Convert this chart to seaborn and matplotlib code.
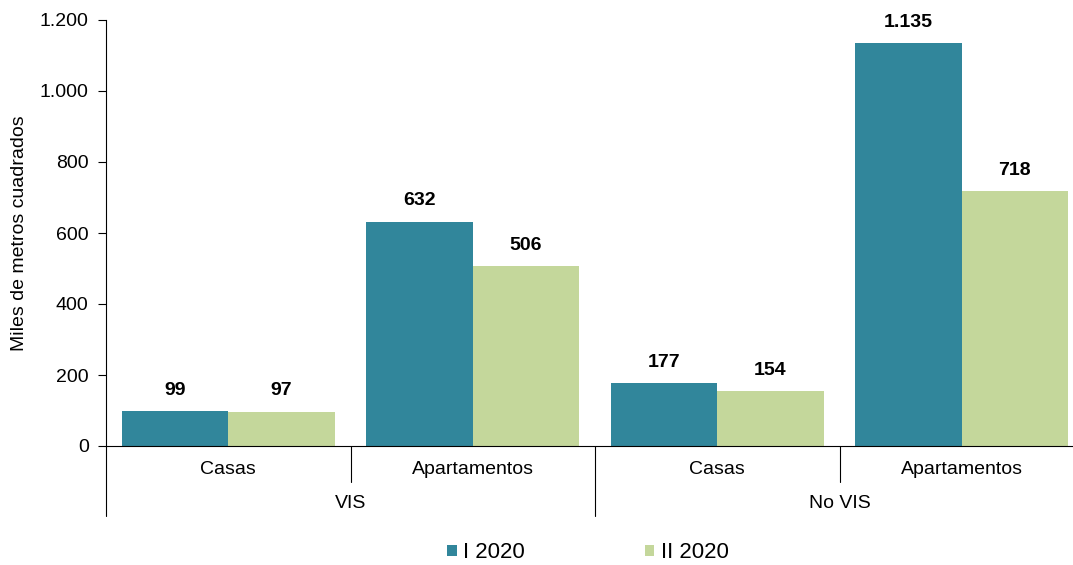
import matplotlib
matplotlib.use("Agg")
import matplotlib.pyplot as plt
import matplotlib.transforms as mtransforms
import seaborn as sns
import pandas as pd

# data
groups = ["VIS", "VIS", "No VIS", "No VIS"]
tipos = ["Casas", "Apartamentos", "Casas", "Apartamentos"]
periodos = ["I 2020", "II 2020"]
valores_i = [99, 632, 177, 1135]
valores_ii = [97, 506, 154, 718]
colores = ["#31869B", "#C4D79B"]

claves = [g + " " + t for g, t in zip(groups, tipos)]
df = pd.DataFrame({
    "clave": claves * 2,
    "periodo": [periodos[0]] * 4 + [periodos[1]] * 4,
    "valor": valores_i + valores_ii,
})

sns.set_theme(style="white", rc={"text.color": "black", "axes.labelcolor": "black",
                                 "xtick.color": "black", "ytick.color": "black"})
plt.rcParams['font.family'] = ['Liberation Sans', 'DejaVu Sans']
plt.rcParams['font.size'] = 14

W, H = 1073, 565
fig = plt.figure(figsize=(W / 100, H / 100), dpi=100)
ax = fig.add_axes([106 / W, (H - 446) / H, 978 / W, 426 / H])

sns.barplot(data=df, x="clave", y="valor", hue="periodo", order=claves,
            hue_order=periodos, palette=colores, width=0.87, saturation=1,
            linewidth=0, ax=ax)

ax.set_xlim(-0.5, 3.5)
ax.set_ylim(0, 1200)
ax.set_yticks(range(0, 1201, 200))
ax.set_yticklabels([f"{v:,}".replace(",", ".") for v in range(0, 1201, 200)], fontsize=14)
ax.tick_params(axis="y", direction="out", length=5.5, width=0.8, color="black", pad=7, left=True)
ax.set_xticks([])
ax.set_xlabel("")
ax.set_ylabel("Miles de metros cuadrados", fontsize=14)
ax.yaxis.set_label_coords(-78 / 978, 0.5)
for s in ["top", "right"]:
    ax.spines[s].set_visible(False)
for s in ["left", "bottom"]:
    ax.spines[s].set_color("black")
    ax.spines[s].set_linewidth(0.8)

# data labels
for cont in ax.containers:
    for bar in cont:
        v = bar.get_height()
        ax.annotate(f"{v:,.0f}".replace(",", "."),
                    (bar.get_x() + bar.get_width() / 2, v),
                    xytext=(0, 15), textcoords="offset points",
                    ha="center", va="center", fontsize=14, fontweight="bold")

# multi-level category axis
trans = mtransforms.blended_transform_factory(ax.transData, ax.transAxes)
for i, t in enumerate(tipos):
    ax.text(i, -24 / 426, t, transform=trans, ha="center", va="center", fontsize=14)
for x0, g in [(0.5, "VIS"), (2.5, "No VIS")]:
    ax.text(x0, -58 / 426, g, transform=trans, ha="center", va="center", fontsize=14)
for xs, largo in [(-0.5, 70), (0.5, 36), (1.5, 70), (2.5, 36), (3.5, 70)]:
    ax.plot([xs, xs], [0, -largo / 426], transform=trans, color="black",
            lw=0.8, clip_on=False)

handles, labels = ax.get_legend_handles_labels()
ax.get_legend().remove()
fig.legend(handles, labels, loc="center", bbox_to_anchor=(588 / W, 12 / H),
           ncol=2, frameon=False, fontsize=16, handlelength=0.42,
           handleheight=0.42, handletextpad=0.3, columnspacing=5.4,
           borderpad=0)

fig.savefig("out.png", dpi=100)
